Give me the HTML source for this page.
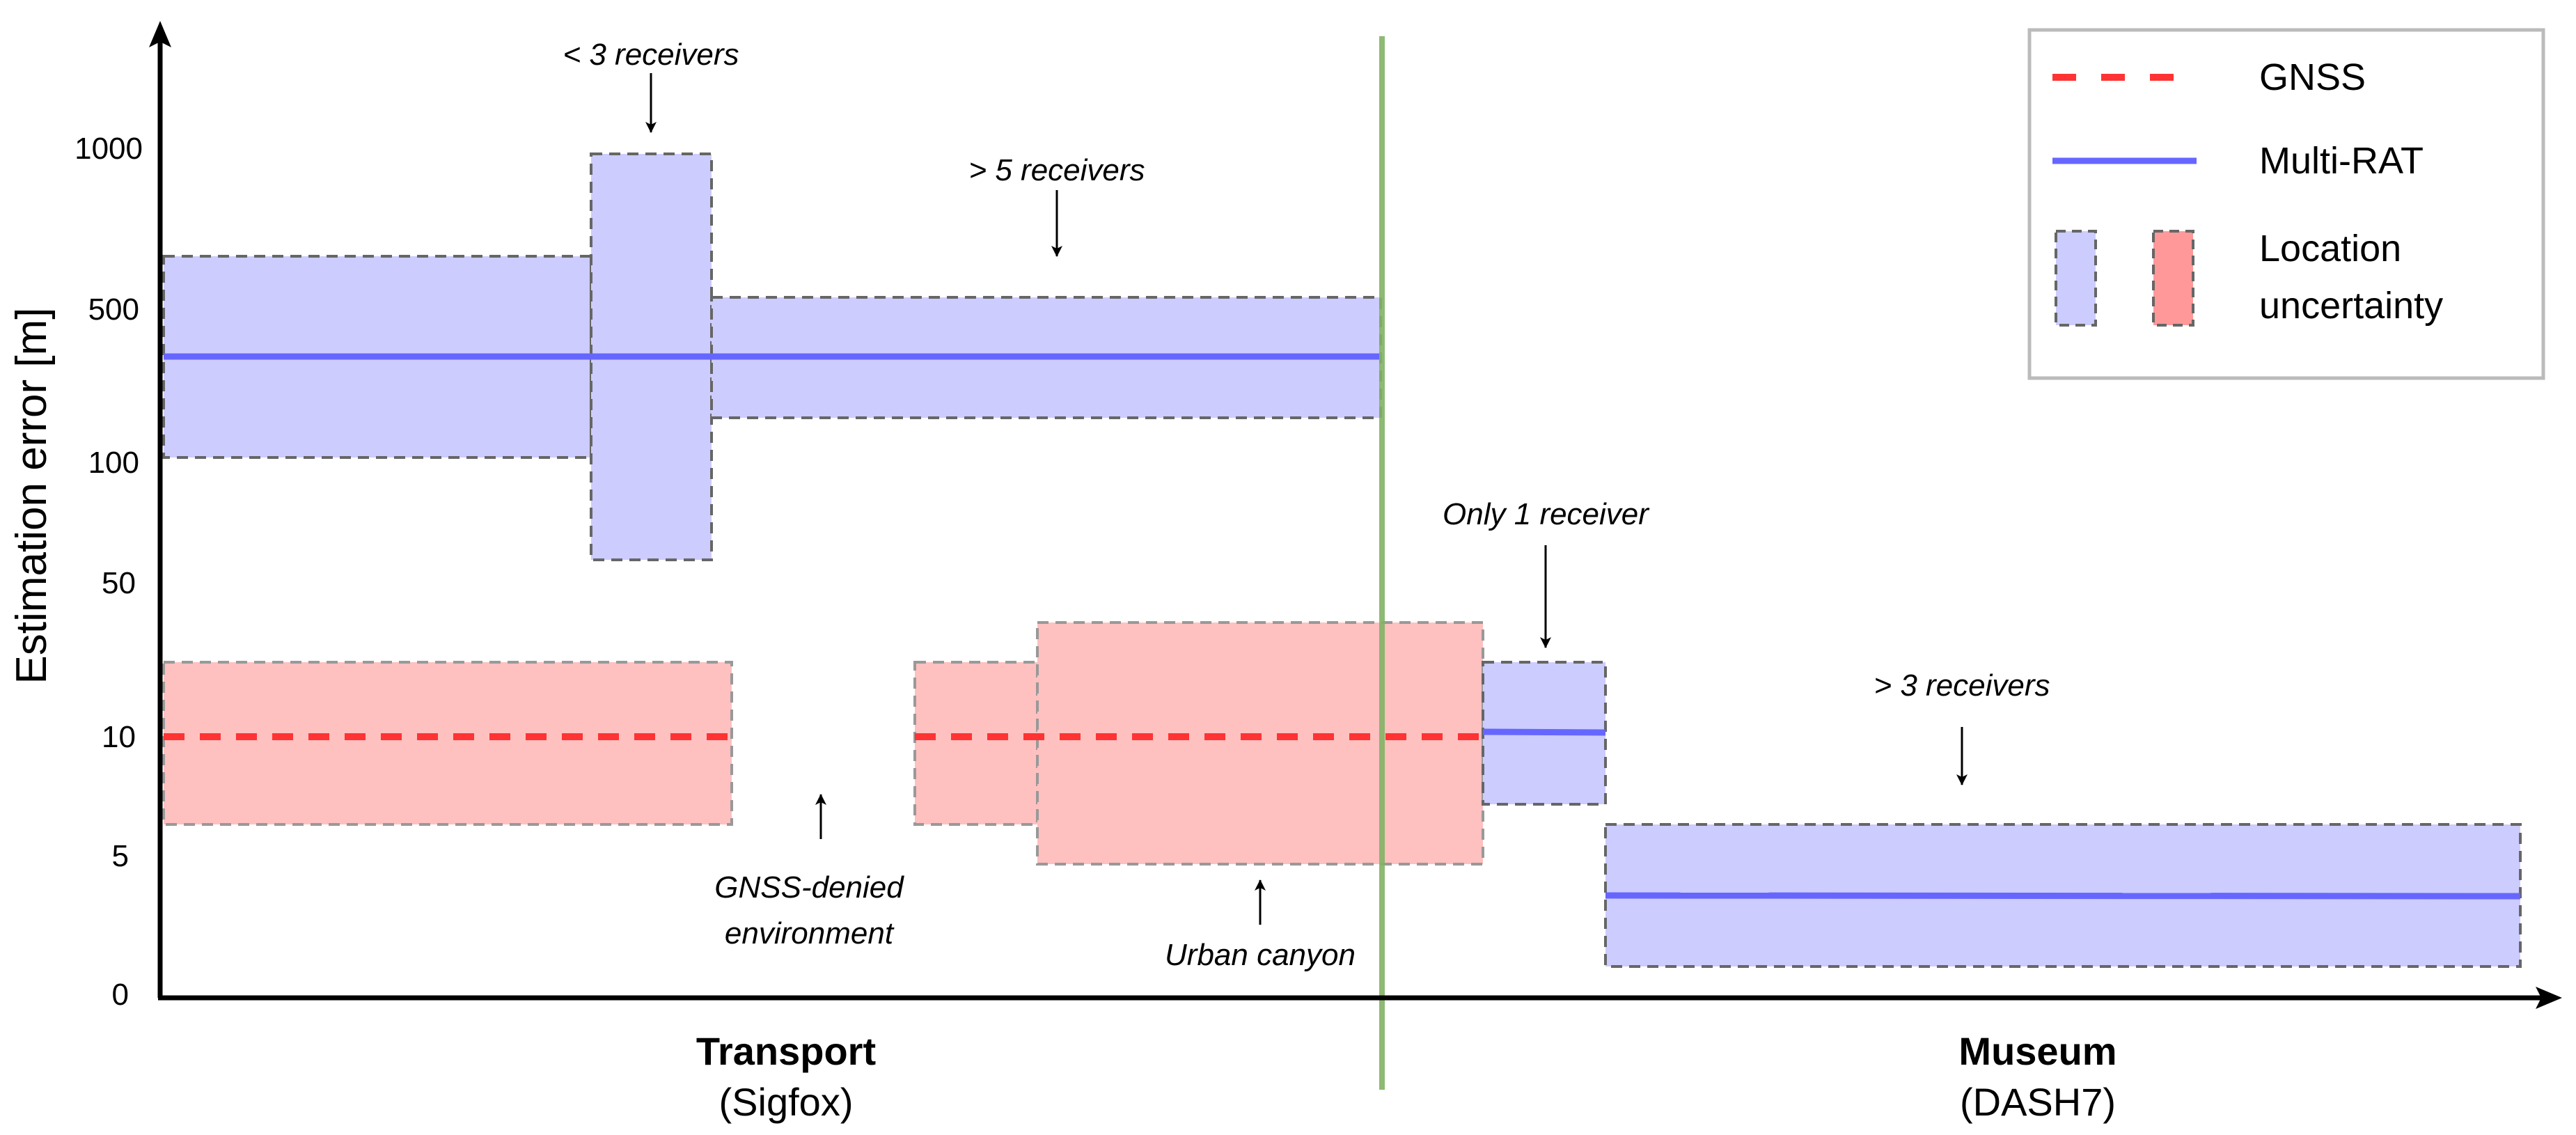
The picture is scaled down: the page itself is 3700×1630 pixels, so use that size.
<!DOCTYPE html>
<html><head><meta charset="utf-8"><style>
html,body{margin:0;padding:0;background:#fff;}
svg{display:block;}
text{font-family:"Liberation Sans",sans-serif;}
.it{font-style:italic;font-size:44px;fill:#000;}
.tk{font-size:44px;text-anchor:end;}
</style></head><body>
<svg width="3700" height="1630" viewBox="0 0 3700 1630" xmlns="http://www.w3.org/2000/svg">
<defs>
<marker id="ah" markerWidth="16" markerHeight="16" refX="15" refY="8" orient="auto" markerUnits="userSpaceOnUse" viewBox="0 0 16 16"><path d="M0,0 L16,8 L0,16 L4,8 Z" fill="#000"/></marker>
</defs>
<g stroke="#666" stroke-width="4" stroke-dasharray="16,10">
<rect x="235" y="368" width="614" height="289" fill="#ccccff"/>
<rect x="849" y="221" width="173" height="583" fill="#ccccff"/>
<rect x="1022" y="427" width="961" height="173" fill="#ccccff"/>
<rect x="235" y="951" width="816" height="233" fill="#ffc0c0" stroke="#999"/>
<rect x="1314" y="951" width="176" height="233" fill="#ffc0c0" stroke="#999"/>
<rect x="1490" y="894" width="640" height="347" fill="#ffc0c0" stroke="#999"/>
<rect x="2130" y="951" width="176" height="204" fill="#ccccff"/>
<rect x="2306" y="1184" width="1314" height="204" fill="#ccccff"/>
</g>
<g stroke="#6666ff" stroke-width="9">
<line x1="235" y1="512" x2="1983" y2="512"/>
<line x1="2130" y1="1051" x2="2306" y2="1052"/>
<line x1="2306" y1="1286" x2="3620" y2="1287"/>
</g>
<g stroke="#ff3333" stroke-width="10" stroke-dasharray="30,22">
<line x1="235" y1="1058" x2="1051" y2="1058"/>
<line x1="1314" y1="1058" x2="2130" y2="1058"/>
</g>
<line x1="1985" y1="52" x2="1985" y2="1565" stroke="#82b366" stroke-width="8" opacity="0.9"/>
<line x1="230" y1="1433" x2="230" y2="40" stroke="#000" stroke-width="7"/>
<path d="M230,30 L214,68 L230,60 L246,68 Z" fill="#000"/>
<line x1="227" y1="1433" x2="3660" y2="1433" stroke="#000" stroke-width="7"/>
<path d="M3680,1433 L3642,1417 L3650,1433 L3642,1449 Z" fill="#000"/>
<g class="tk">
<text x="205" y="228">1000</text>
<text x="200" y="459">500</text>
<text x="200" y="679">100</text>
<text x="195" y="852">50</text>
<text x="195" y="1073">10</text>
<text x="185" y="1244">5</text>
<text x="185" y="1443">0</text>
</g>
<text transform="translate(66,712) rotate(-90)" font-size="62" text-anchor="middle">Estimation error [m]</text>
<g stroke="#000" stroke-width="3" fill="none">
<line x1="935" y1="105" x2="935" y2="190" marker-end="url(#ah)"/>
<line x1="1518" y1="273" x2="1518" y2="368" marker-end="url(#ah)"/>
<line x1="2220" y1="783" x2="2220" y2="930" marker-end="url(#ah)"/>
<line x1="2818" y1="1044" x2="2818" y2="1127" marker-end="url(#ah)"/>
<line x1="1179" y1="1205" x2="1179" y2="1141" marker-end="url(#ah)"/>
<line x1="1810" y1="1328" x2="1810" y2="1264" marker-end="url(#ah)"/>
</g>
<g class="it" text-anchor="middle">
<text x="935" y="93">&lt; 3 receivers</text>
<text x="1518" y="259">&gt; 5 receivers</text>
<text x="2220" y="753">Only 1 receiver</text>
<text x="2818" y="999">&gt; 3 receivers</text>
<text x="1162" y="1289">GNSS-denied</text>
<text x="1162" y="1355">environment</text>
<text x="1810" y="1386">Urban canyon</text>
</g>
<text x="1129" y="1529" font-size="56" font-weight="bold" text-anchor="middle">Transport</text>
<text x="1129" y="1602" font-size="56" text-anchor="middle">(Sigfox)</text>
<text x="2927" y="1529" font-size="56" font-weight="bold" text-anchor="middle">Museum</text>
<text x="2927" y="1602" font-size="56" text-anchor="middle">(DASH7)</text>
<rect x="2915" y="43" width="738" height="500" fill="#fff" stroke="#bbb" stroke-width="5"/>
<line x1="2948" y1="111" x2="3155" y2="111" stroke="#ff3333" stroke-width="10" stroke-dasharray="34,36"/>
<line x1="2948" y1="231" x2="3155" y2="231" stroke="#6666ff" stroke-width="9"/>
<rect x="2953" y="332" width="57" height="135" fill="#ccccff" stroke="#666" stroke-width="4" stroke-dasharray="14,9"/>
<rect x="3093" y="332" width="57" height="135" fill="#ff9999" stroke="#666" stroke-width="4" stroke-dasharray="14,9"/>
<g font-size="54">
<text x="3245" y="129">GNSS</text>
<text x="3245" y="249">Multi-RAT</text>
<text x="3245" y="375">Location</text>
<text x="3245" y="457">uncertainty</text>
</g>
</svg>
</body></html>
